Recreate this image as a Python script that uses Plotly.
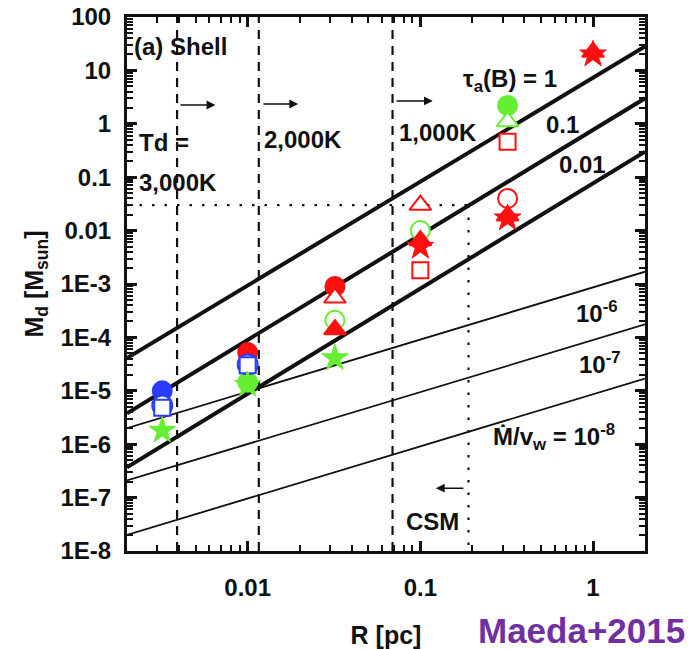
import numpy as np
import plotly.graph_objects as go

# ---------------- data ----------------
R_range = [0.002, 2.0]
M_range = [1e-8, 100.0]

# thick lines: tau_a(B) = 1, 0.1, 0.01  (values at R = 0.002 and R = 2)
R_line = [0.002, 2.0]
tau_1 = [4.1e-5, 28.0]
tau_01 = [3.8e-6, 3.0]
tau_001 = [3.7e-7, 0.30]
# thin lines: Mdot/vw = 1e-6, 1e-7, 1e-8
mdot_6 = [2.0e-6, 1.7e-3]
mdot_7 = [2.1e-7, 1.75e-4]
mdot_8 = [2.0e-8, 1.7e-5]

# vertical temperature boundaries
R_td = [0.0039, 0.0116, 0.069]
R_csm = 0.19
M_csm = 0.03

# markers (R, M)
blue_fc_R, blue_fc_M = [0.0032], [1.0e-5]
blue_oc_R, blue_oc_M = [0.0032, 0.01], [5.3e-6, 3.1e-5]
blue_sq_R, blue_sq_M = [0.0032, 0.01], [4.8e-6, 3.0e-5]
red_fc_R, red_fc_M = [0.01, 0.032], [5.2e-5, 9.0e-4]
green_fc_R, green_fc_M = [0.01, 0.32], [1.45e-5, 2.2]
green_oc_R, green_oc_M = [0.032, 0.1], [2.1e-4, 0.010]
red_oc_R, red_oc_M = [0.32], [0.040]
red_ot_R, red_ot_M = [0.032, 0.1], [5.5e-4, 0.030]
green_ot_R, green_ot_M = [0.32], [1.1]
red_ft_R, red_ft_M = [0.032, 0.1, 0.32, 1.0], [1.4e-4, 6.5e-3, 0.019, 22.0]
red_sq_R, red_sq_M = [0.1, 0.32], [1.8e-3, 0.46]
green_st_R, green_st_M = [0.0032, 0.01, 0.032], [1.8e-6, 1.3e-5, 4.1e-5]
red_st_R, red_st_M = [0.1, 0.32, 1.0], [5.0e-3, 0.017, 20.0]

y_tickvals = [1e-8, 1e-7, 1e-6, 1e-5, 1e-4, 1e-3, 0.01, 0.1, 1, 10, 100]
y_ticktext = ["1E-8", "1E-7", "1E-6", "1E-5", "1E-4", "1E-3", "0.01", "0.1", "1", "10", "100"]
x_tickvals = [0.01, 0.1, 1]
x_ticktext = ["0.01", "0.1", "1"]

RED = "#ff1010"
GREEN = "#66ee33"
BLUE = "#2a3cff"
FONT = "Liberation Sans"

fig = go.Figure()

def line(x, y, w, dash="solid", color="#111"):
    fig.add_trace(go.Scatter(x=x, y=y, mode="lines", line=dict(color=color, width=w, dash=dash),
                             hoverinfo="skip", showlegend=False))

for t in (tau_1, tau_01, tau_001):
    line(R_line, t, 4)
for m in (mdot_6, mdot_7, mdot_8):
    line(R_line, m, 1.8)
for r in R_td:
    line([r, r], M_range, 2.2, dash="9px,7px")
line([R_range[0], R_csm], [M_csm, M_csm], 2.2, dash="2.5px,10px")
line([R_csm, R_csm], [M_csm, M_range[0]], 2.2, dash="2.5px,10px")

def pts(x, y, symbol, fill, edge, size=17, lw=2):
    fig.add_trace(go.Scatter(x=x, y=y, mode="markers",
                             marker=dict(symbol=symbol, size=size, color=fill,
                                         line=dict(color=edge, width=lw)),
                             hoverinfo="skip", showlegend=False))

pts(blue_fc_R, blue_fc_M, "circle", BLUE, BLUE, 19)
pts(red_fc_R, red_fc_M, "circle", RED, RED, 19)
pts(green_fc_R, green_fc_M, "circle", GREEN, GREEN, 19)
pts(blue_oc_R, blue_oc_M, "circle", "white", BLUE, 20)
pts(green_oc_R, green_oc_M, "circle", "white", GREEN, 19)
pts(red_oc_R, red_oc_M, "circle", "white", RED, 19)
pts(red_ot_R, red_ot_M, "triangle-up", "white", RED, 19)
pts(green_ot_R, green_ot_M, "triangle-up", "white", GREEN, 19)
pts(red_ft_R, red_ft_M, "triangle-up", RED, RED, 19)
pts(blue_sq_R, blue_sq_M, "square", "white", BLUE, 16)
pts(red_sq_R, red_sq_M, "square", "white", RED, 16)
pts(green_st_R, green_st_M, "star", GREEN, GREEN, 20, 1)
pts(red_st_R, red_st_M, "star", RED, RED, 20, 1)

L = np.log10
ann = []
def txt(x, y, s, size=24, color="#111", xanchor="left"):
    ann.append(dict(x=L(x), y=L(y), xref="x", yref="y", text=s, showarrow=False,
                    xanchor=xanchor, yanchor="middle",
                    font=dict(family=FONT, size=size, color=color, weight="bold")))

txt(0.00215, 27.5, "(a) Shell")
txt(0.00227, 0.44, "Td =")
txt(0.00227, 0.081, "3,000K")
txt(0.0121, 0.5, "2,000K")
txt(0.073, 0.70, "1,000K")
txt(0.172, 6.6, "τ<sub>a</sub>(B) = 1")
txt(0.52, 0.95, "0.1")
txt(0.62, 0.17, "0.01")
txt(0.78, 3.0e-4, "10<sup>-6</sup>")
txt(0.81, 3.3e-5, "10<sup>-7</sup>")
txt(0.255, 1.35e-6, "Ṁ/v<sub>w</sub> = 10<sup>-8</sup>")
txt(0.08, 3.6e-8, "CSM")

def arrow(x0, x1, y):
    ann.append(dict(x=L(x1), y=L(y), ax=L(x0), ay=L(y), xref="x", yref="y",
                    axref="x", ayref="y", text="", showarrow=True,
                    arrowhead=2, arrowsize=1.1, arrowwidth=1.6, arrowcolor="#111"))

arrow(0.0040, 0.0065, 2.25)
arrow(0.0121, 0.0196, 2.35)
arrow(0.0713, 0.118, 2.68)
arrow(0.181, 0.123, 1.5e-7)

ann.append(dict(x=1.081, y=-0.148, xref="paper", yref="paper", xanchor="right", yanchor="middle",
                text="Maeda+2015", showarrow=False,
                font=dict(family=FONT, size=35, color="#7030a0", weight="bold")))

minor_x = [m * 10.0 ** e for e in range(-3, 1) for m in range(2, 10)]
minor_y = [m * 10.0 ** e for e in range(-8, 2) for m in range(2, 10)]

axis_common = dict(type="log", showline=True, linecolor="#111", linewidth=3, mirror="ticks",
                   ticks="inside", ticklen=10, tickwidth=2.5, tickcolor="#111",
                   showgrid=False, zeroline=False, automargin=False,
                   tickfont=dict(family=FONT, size=24, color="#111", weight="bold"))

fig.update_layout(
    width=693, height=649,
    margin=dict(l=127, r=48, t=17, b=98),
    paper_bgcolor="white", plot_bgcolor="white",
    xaxis=dict(range=[L(R_range[0]), L(R_range[1])], tickvals=x_tickvals, ticktext=x_ticktext,
               ticklabelstandoff=13,
               minor=dict(tickvals=minor_x, ticks="inside", ticklen=6, tickwidth=2, tickcolor="#111"),
               title=dict(text="R [pc]", standoff=30,
                          font=dict(family=FONT, size=25, color="#111", weight="bold")),
               **axis_common),
    yaxis=dict(range=[L(M_range[0]), L(M_range[1])], tickvals=y_tickvals, ticktext=y_ticktext,
               ticklabelstandoff=8,
               minor=dict(tickvals=minor_y, ticks="inside", ticklen=6, tickwidth=2, tickcolor="#111"),
               title=dict(text="M<sub>d</sub> [M<sub>sun</sub>]", standoff=10,
                          font=dict(family=FONT, size=25, color="#111", weight="bold")),
               **axis_common),
    annotations=ann,
)

fig.write_html("out.html")
